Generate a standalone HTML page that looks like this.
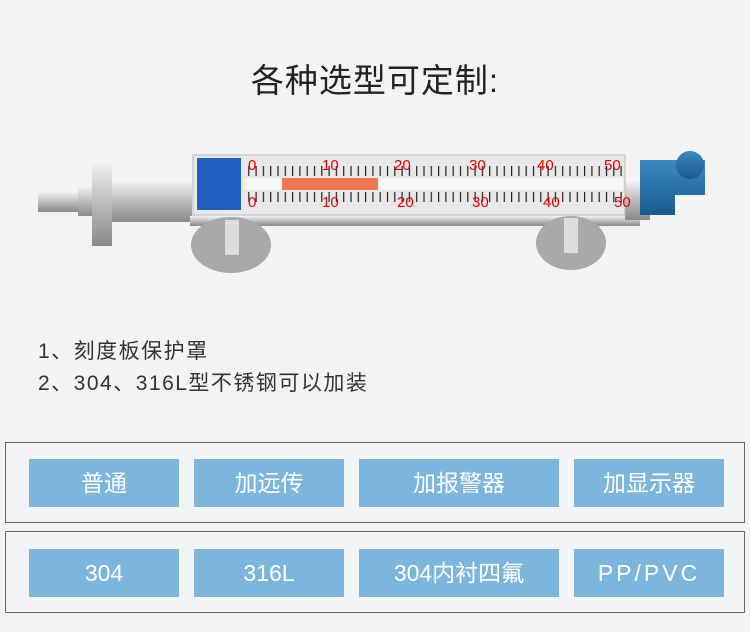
<!DOCTYPE html>
<html><head><meta charset="utf-8"><style>
body{margin:0;width:750px;height:632px;background:#f2f3f5;font-family:"Liberation Sans","Noto Sans CJK SC",sans-serif;position:relative;overflow:hidden}
.t{position:absolute;left:0;width:750px;top:54px;text-align:center;font-size:33px;color:#222;letter-spacing:1px}
.l{position:absolute;left:38px;font-size:21px;color:#333;letter-spacing:1.5px}
.box{position:absolute;left:5px;width:738px;border:1px solid #666}
.b{position:absolute;height:48px;background:#7db6dc;color:#fff;font-size:23px;line-height:48px;text-align:center}
</style></head><body>
<div class="t">各种选型可定制:</div>
<svg style="position:absolute;left:0;top:0" width="750" height="300">
<defs><linearGradient id="m" x1="0" y1="0" x2="0" y2="1"><stop offset="0" stop-color="#f4f4f4"/><stop offset=".5" stop-color="#bcbcbc"/><stop offset="1" stop-color="#8a8a8a"/></linearGradient>
<linearGradient id="bl" x1="0" y1="0" x2="0" y2="1"><stop offset="0" stop-color="#3a8ac0"/><stop offset="1" stop-color="#1a5a90"/></linearGradient>
<pattern id="tk" width="7.3" height="10" patternUnits="userSpaceOnUse"><rect width="1.2" height="10" fill="#222"/></pattern></defs>
<rect x="38" y="192" width="40" height="20" fill="url(#m)"/>
<rect x="78" y="186" width="20" height="30" fill="url(#m)"/>
<rect x="92" y="160" width="20" height="86" fill="url(#m)"/>
<rect x="112" y="180" width="80" height="42" fill="url(#m)"/>
<rect x="190" y="216" width="450" height="10" fill="url(#m)"/>
<rect x="625" y="180" width="25" height="40" fill="url(#m)"/>
<ellipse cx="231" cy="245" rx="40" ry="28" fill="#a9a9a9"/>
<rect x="225" y="220" width="14" height="35" fill="#ddd"/>
<ellipse cx="571" cy="243" rx="35" ry="27" fill="#a9a9a9"/>
<rect x="564" y="218" width="14" height="35" fill="#ddd"/>
<rect x="193" y="155" width="432" height="60" fill="#e8e8e8" stroke="#bbb"/>
<rect x="197" y="158" width="44" height="52" fill="#2060c0"/>
<rect x="248" y="166" width="374" height="10" fill="url(#tk)"/>
<rect x="248" y="192" width="374" height="10" fill="url(#tk)"/>
<rect x="245" y="178" width="378" height="12" fill="#f6f6f6"/>
<rect x="282" y="178" width="96" height="12" fill="#f07850"/>
<g fill="#e00" font-size="15" font-family="Liberation Sans">
<text x="248" y="170">0</text><text x="322" y="170">10</text><text x="394" y="170">20</text><text x="469" y="170">30</text><text x="537" y="170">40</text><text x="604" y="170">50</text>
<text x="248" y="207">0</text><text x="322" y="207">10</text><text x="397" y="207">20</text><text x="472" y="207">30</text><text x="543" y="207">40</text><text x="614" y="207">50</text></g>
<path d="M640 160 h65 v35 h-30 v20 h-35z" fill="url(#bl)"/>
<circle cx="690" cy="165" r="14" fill="url(#bl)"/>
</svg>
<div class="l" style="top:335px">1、刻度板保护罩</div>
<div class="l" style="top:367px">2、304、316L型不锈钢可以加装</div>
<div class="box" style="top:442px;height:79px"></div>
<div class="box" style="top:531px;height:80px"></div>
<div class="b" style="left:29px;width:150px;top:459px">普通</div>
<div class="b" style="left:194px;width:150px;top:459px">加远传</div>
<div class="b" style="left:359px;width:200px;top:459px">加报警器</div>
<div class="b" style="left:574px;width:150px;top:459px">加显示器</div>
<div class="b" style="left:29px;width:150px;top:549px">304</div>
<div class="b" style="left:194px;width:150px;top:549px">316L</div>
<div class="b" style="left:359px;width:200px;top:549px">304内衬四氟</div>
<div class="b" style="left:574px;width:150px;top:549px;letter-spacing:3px">PP/PVC</div>
</body></html>
